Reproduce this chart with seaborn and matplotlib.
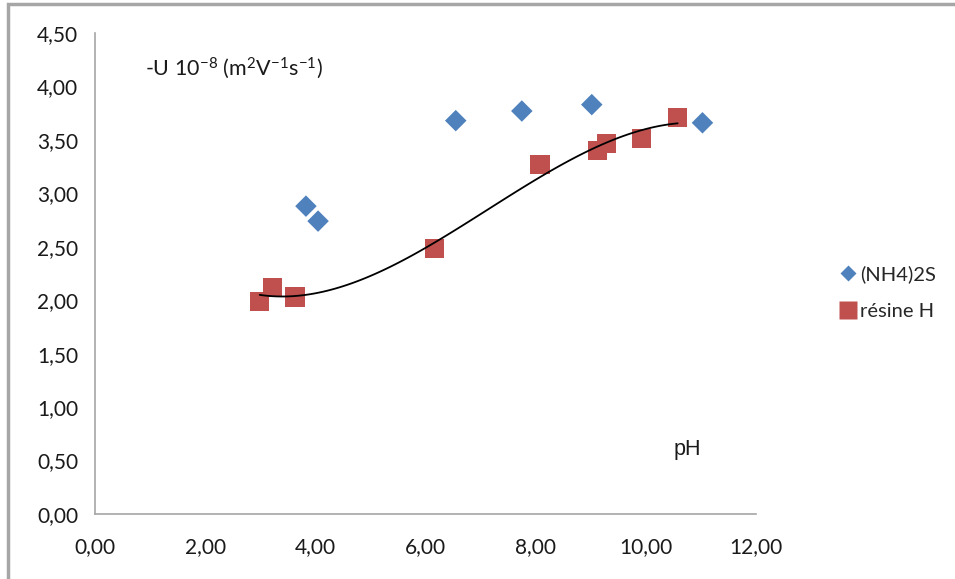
import matplotlib
matplotlib.use("Agg")
import matplotlib.pyplot as plt
import numpy as np
import pandas as pd
import seaborn as sns
from matplotlib.lines import Line2D
from matplotlib.ticker import FuncFormatter, MultipleLocator

# (NH4)2S series
nh4_ph = [3.83, 4.05, 6.55, 7.75, 9.02, 11.03]
nh4_u = [2.88, 2.74, 3.68, 3.77, 3.83, 3.66]

# résine H series
resine_ph = [2.99, 3.23, 3.63, 6.17, 8.08, 9.13, 9.29, 9.93, 10.58]
resine_u = [1.99, 2.12, 2.03, 2.48, 3.27, 3.40, 3.47, 3.51, 3.71]

BLUE = "#4F81BD"
RED = "#C0504D"
GREY = "#A6A6A6"
TEXT = "#1a1a1a"

sns.set_style("white")
plt.rcParams["font.family"] = ["Lato", "DejaVu Sans"]
plt.rcParams["mathtext.fontset"] = "custom"
plt.rcParams["mathtext.rm"] = "Lato"
plt.rcParams["mathtext.it"] = "Lato"

fig = plt.figure(figsize=(9.55, 5.79), dpi=100)
ax = fig.add_axes([0.0995, 0.1123, 0.692, 0.8307])

df_nh4 = pd.DataFrame({"pH": nh4_ph, "U": nh4_u})
df_res = pd.DataFrame({"pH": resine_ph, "U": resine_u})

sns.scatterplot(data=df_nh4, x="pH", y="U", marker="D", s=120, color=BLUE,
                edgecolor="none", ax=ax, zorder=3)
sns.scatterplot(data=df_res, x="pH", y="U", marker="s", s=190, color=RED,
                edgecolor="none", ax=ax, zorder=3)
# polynomial (order 3) trendline on résine H
sns.regplot(data=df_res, x="pH", y="U", order=3, ci=None, scatter=False,
            truncate=True, line_kws={"color": "black", "lw": 1.3, "zorder": 4}, ax=ax)

ax.set_xlim(0, 12)
ax.set_ylim(0, 4.5)
ax.xaxis.set_major_locator(MultipleLocator(2))
ax.yaxis.set_major_locator(MultipleLocator(0.5))
fmt = FuncFormatter(lambda v, _: f"{v:.2f}".replace(".", ","))
ax.xaxis.set_major_formatter(fmt)
ax.yaxis.set_major_formatter(fmt)
ax.set_xlabel("")
ax.set_ylabel("")

for side in ("top", "right"):
    ax.spines[side].set_visible(False)
for side in ("left", "bottom"):
    ax.spines[side].set_color(GREY)
    ax.spines[side].set_linewidth(1.2)
ax.tick_params(axis="both", direction="out", length=6, width=1.2, color=GREY,
               labelsize=15, labelcolor=TEXT, pad=6)
ax.tick_params(axis="x", pad=11)

ax.text(0.9, 4.17,
        r"-U 10$^{\mathdefault{-8}}$ (m$^{\mathdefault{2}}$V$^{\mathdefault{-1}}$s$^{\mathdefault{-1}}$)",
        fontsize=15.5, color=TEXT, va="center", ha="left")
ax.text(10.75, 0.6, "pH", fontsize=15.5, color=TEXT, va="center", ha="center",
        family=["Liberation Sans", "DejaVu Sans"])

handles = [
    Line2D([], [], marker="D", ls="none", color=BLUE, markersize=8.5, markeredgecolor="none"),
    Line2D([], [], marker="s", ls="none", color=RED, markersize=13, markeredgecolor="none"),
]
fig.legend(handles, ["(NH4)2S", "résine H"], loc="center left",
           bbox_to_anchor=(0.858, 0.495), frameon=False, fontsize=14.5,
           handletextpad=0.1, labelspacing=1.0, handlelength=1.0)

# outer chart frame (top and left edges visible)
fig.patches.append(plt.Rectangle((7.5 / 955, -0.1), 1.2, 1.1 - 4.5 / 579,
                                 transform=fig.transFigure, fill=False,
                                 edgecolor=GREY, lw=2.5))

fig.savefig("out.png", dpi=100)
